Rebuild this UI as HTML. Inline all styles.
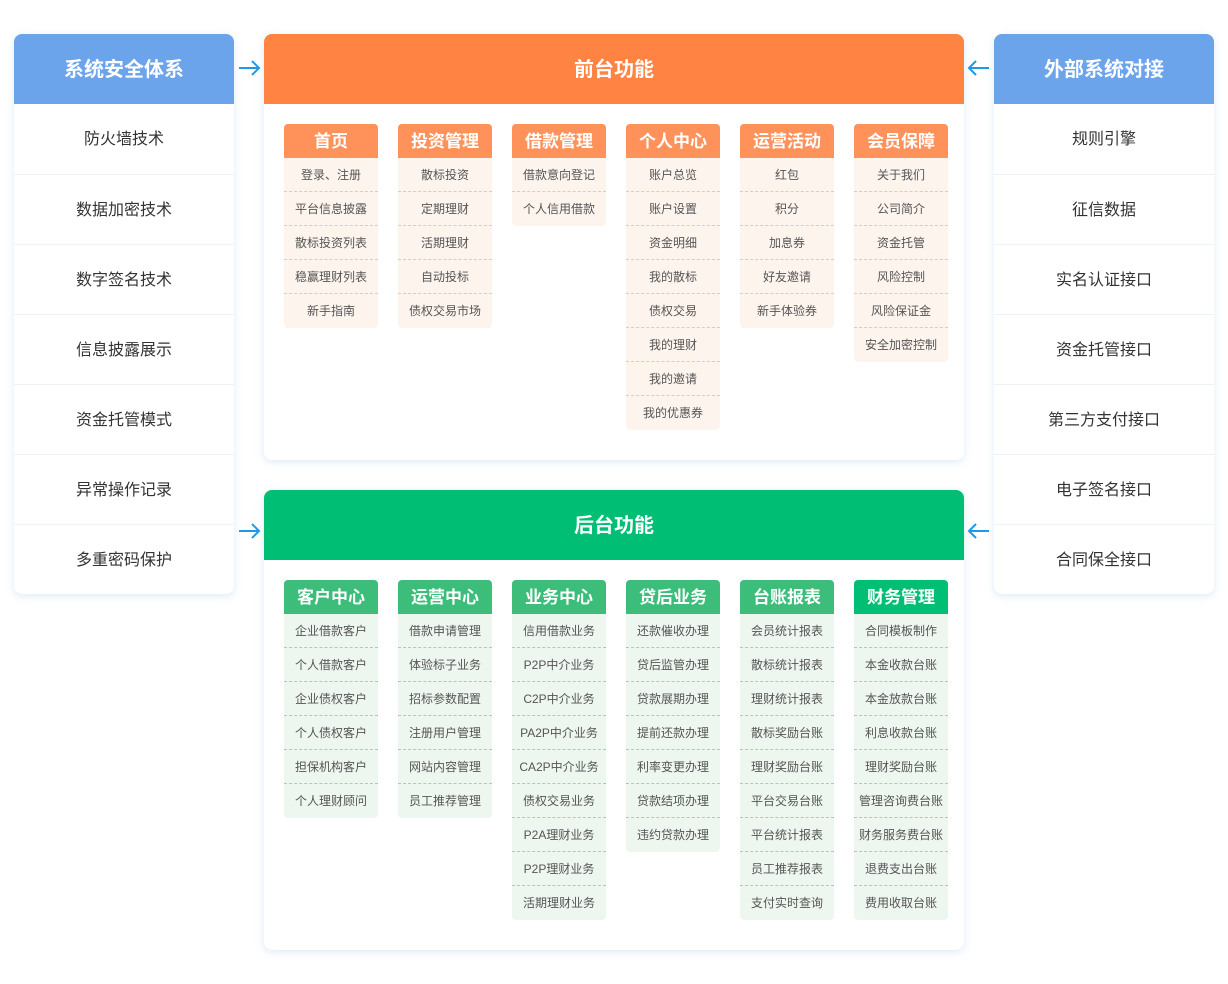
<!DOCTYPE html>
<html><head><meta charset="utf-8"><style>
*{margin:0;padding:0;box-sizing:border-box}
body{width:1228px;height:984px;background:#fff;position:relative;font-family:"Liberation Sans","Noto Sans CJK SC",sans-serif;overflow:hidden}
.side{position:absolute;top:34px;width:220px;height:560px;background:#fff;border-radius:8px;box-shadow:0 2px 8px rgba(120,170,220,.25);overflow:hidden}
.side .h{height:70px;background:#6ba4ea;color:#fff;font-size:20px;font-weight:bold;text-align:center;line-height:72px}
.side .r{height:70px;line-height:71px;text-align:center;font-size:16px;color:#333;border-top:1px solid #eef1f5}
.side .h+.r{border-top:none}
.card{position:absolute;left:264px;width:700px;background:#fff;border-radius:8px;box-shadow:0 2px 8px rgba(120,170,220,.25);overflow:hidden}
.card .h{height:70px;color:#fff;font-size:20px;font-weight:bold;text-align:center;line-height:72px}
.col{position:absolute;width:94px;border-radius:4px;overflow:hidden}
.col .t{height:34px;line-height:36px;text-align:center;color:#fff;font-size:17px;font-weight:bold}
.col .i{height:34px;line-height:34px;text-align:center;font-size:12px;color:#555;border-bottom:1px dashed}
.col .i:last-child{border-bottom:none}
.o .t{background:#ff915a}.o{background:#fdf4ee}.o .i{border-color:#f7c3a6}
.g .t{background:#3cbd7a}.g{background:#eef6f0}.g .i{border-color:#92d9b4}
</style></head><body>
<div class="side" style="left:14px"><div class="h">系统安全体系</div>
<div class="r">防火墙技术</div><div class="r">数据加密技术</div><div class="r">数字签名技术</div><div class="r">信息披露展示</div><div class="r">资金托管模式</div><div class="r">异常操作记录</div><div class="r">多重密码保护</div></div>
<div class="side" style="left:994px"><div class="h">外部系统对接</div>
<div class="r">规则引擎</div><div class="r">征信数据</div><div class="r">实名认证接口</div><div class="r">资金托管接口</div><div class="r">第三方支付接口</div><div class="r">电子签名接口</div><div class="r">合同保全接口</div></div>
<svg style="position:absolute;left:0;top:0" width="1228" height="984">
<g stroke="#1a9be8" stroke-width="2" fill="none">
<path d="M239 68H259M252 61L259 68L252 75"/>
<path d="M239 531H259M252 524L259 531L252 538"/>
<path d="M989 68H969M976 61L969 68L976 75"/>
<path d="M989 531H969M976 524L969 531L976 538"/>
</g></svg>
<div class="card" style="top:34px;height:426px"><div class="h" style="background:#ff8444">前台功能</div>
<div class="col o" style="left:20px;top:90px"><div class="t">首页</div><div class="i">登录、注册</div><div class="i">平台信息披露</div><div class="i">散标投资列表</div><div class="i">稳赢理财列表</div><div class="i">新手指南</div></div>
<div class="col o" style="left:134px;top:90px"><div class="t">投资管理</div><div class="i">散标投资</div><div class="i">定期理财</div><div class="i">活期理财</div><div class="i">自动投标</div><div class="i">债权交易市场</div></div>
<div class="col o" style="left:248px;top:90px"><div class="t">借款管理</div><div class="i">借款意向登记</div><div class="i">个人信用借款</div></div>
<div class="col o" style="left:362px;top:90px"><div class="t">个人中心</div><div class="i">账户总览</div><div class="i">账户设置</div><div class="i">资金明细</div><div class="i">我的散标</div><div class="i">债权交易</div><div class="i">我的理财</div><div class="i">我的邀请</div><div class="i">我的优惠券</div></div>
<div class="col o" style="left:476px;top:90px"><div class="t">运营活动</div><div class="i">红包</div><div class="i">积分</div><div class="i">加息券</div><div class="i">好友邀请</div><div class="i">新手体验券</div></div>
<div class="col o" style="left:590px;top:90px"><div class="t">会员保障</div><div class="i">关于我们</div><div class="i">公司简介</div><div class="i">资金托管</div><div class="i">风险控制</div><div class="i">风险保证金</div><div class="i">安全加密控制</div></div>
</div>
<div class="card" style="top:490px;height:460px"><div class="h" style="background:#00bf74">后台功能</div>
<div class="col g" style="left:20px;top:90px"><div class="t">客户中心</div><div class="i">企业借款客户</div><div class="i">个人借款客户</div><div class="i">企业债权客户</div><div class="i">个人债权客户</div><div class="i">担保机构客户</div><div class="i">个人理财顾问</div></div>
<div class="col g" style="left:134px;top:90px"><div class="t">运营中心</div><div class="i">借款申请管理</div><div class="i">体验标子业务</div><div class="i">招标参数配置</div><div class="i">注册用户管理</div><div class="i">网站内容管理</div><div class="i">员工推荐管理</div></div>
<div class="col g" style="left:248px;top:90px"><div class="t">业务中心</div><div class="i">信用借款业务</div><div class="i">P2P中介业务</div><div class="i">C2P中介业务</div><div class="i">PA2P中介业务</div><div class="i">CA2P中介业务</div><div class="i">债权交易业务</div><div class="i">P2A理财业务</div><div class="i">P2P理财业务</div><div class="i">活期理财业务</div></div>
<div class="col g" style="left:362px;top:90px"><div class="t">贷后业务</div><div class="i">还款催收办理</div><div class="i">贷后监管办理</div><div class="i">贷款展期办理</div><div class="i">提前还款办理</div><div class="i">利率变更办理</div><div class="i">贷款结项办理</div><div class="i">违约贷款办理</div></div>
<div class="col g" style="left:476px;top:90px"><div class="t">台账报表</div><div class="i">会员统计报表</div><div class="i">散标统计报表</div><div class="i">理财统计报表</div><div class="i">散标奖励台账</div><div class="i">理财奖励台账</div><div class="i">平台交易台账</div><div class="i">平台统计报表</div><div class="i">员工推荐报表</div><div class="i">支付实时查询</div></div>
<div class="col g" style="left:590px;top:90px"><div class="t" style="background:#00bf74">财务管理</div><div class="i">合同模板制作</div><div class="i">本金收款台账</div><div class="i">本金放款台账</div><div class="i">利息收款台账</div><div class="i">理财奖励台账</div><div class="i">管理咨询费台账</div><div class="i">财务服务费台账</div><div class="i">退费支出台账</div><div class="i">费用收取台账</div></div>
</div>
</body></html>
